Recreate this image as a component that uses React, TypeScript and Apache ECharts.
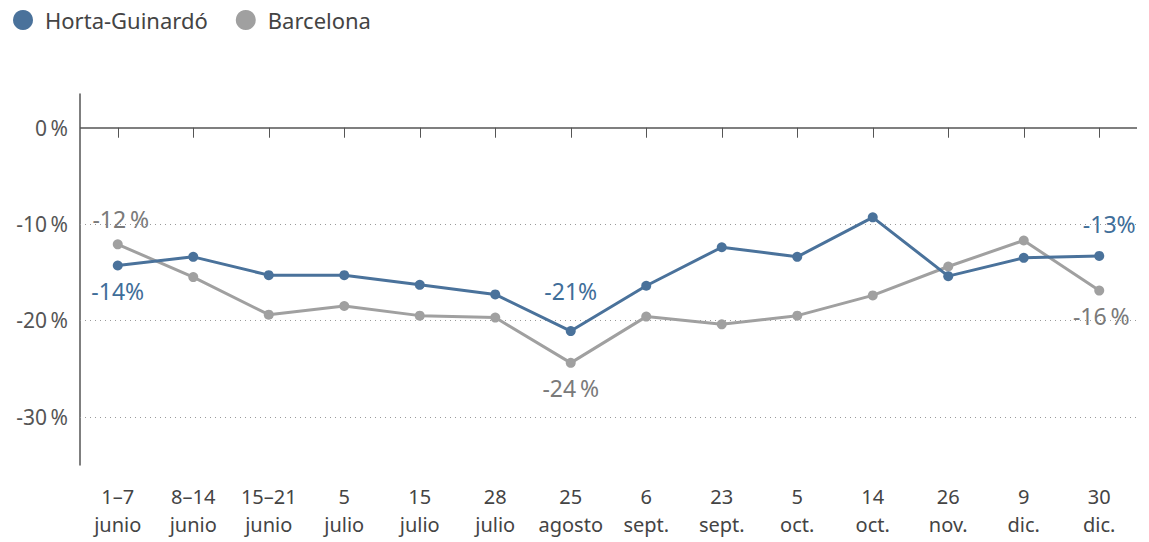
import React, { useEffect, useRef } from "react";
import * as echarts from "echarts";

const categories = [
  "1–7\njunio", "8–14\njunio", "15–21\njunio", "5\njulio", "15\njulio", "28\njulio",
  "25\nagosto", "6\nsept.", "23\nsept.", "5\noct.", "14\noct.", "26\nnov.", "9\ndic.", "30\ndic.",
];
const hortaValues = [-14.3, -13.4, -15.3, -15.3, -16.3, -17.3, -21.1, -16.4, -12.4, -13.4, -9.3, -15.4, -13.5, -13.3];
const bcnValues = [-12.1, -15.5, -19.4, -18.5, -19.5, -19.7, -24.4, -19.6, -20.4, -19.5, -17.4, -14.4, -11.7, -16.9];
const yTicks = [0, -10, -20, -30];
const hortaLabels: Record<number, { text: string; pos: string; off?: number[] }> = {
  0: { text: "-14%", pos: "bottom" },
  6: { text: "-21%", pos: "top", off: [0, -15] },
  13: { text: "-13%", pos: "top", off: [10, -6] },
};
const bcnLabels: Record<number, { text: string; pos: string; off?: number[] }> = {
  0: { text: "-12\u2009%", pos: "top", off: [3, 0] },
  6: { text: "-24\u2009%", pos: "bottom" },
  13: { text: "-16\u2009%", pos: "bottom", off: [2, 0] },
};

const BLUE = "#4a729b";
const GREY = "#a0a0a0";
const FONT = "Noto Sans";

function buildData(values: number[], labels: Record<number, any>, color: string) {
  return values.map((v, i) => {
    const l = labels[i];
    if (!l) return v;
    return {
      value: v,
      label: {
        show: true,
        position: l.pos,
        distance: 9,
        offset: l.off || [0, 0],
        formatter: l.text,
        color,
        fontSize: 23,
        fontFamily: FONT,
      },
    };
  });
}

export default function App() {
  const ref = useRef<HTMLDivElement>(null);
  useEffect(() => {
    if (!ref.current) return;
    const chart = echarts.init(ref.current, undefined, { renderer: "svg" });
    chart.setOption({
      animation: false,
      textStyle: { fontFamily: FONT },
      legend: {
        left: 8,
        top: 4,
        icon: "circle",
        itemWidth: 20,
        itemHeight: 20,
        itemGap: 28,
        textStyle: { fontSize: 22, lineHeight: 22, color: "#444", fontFamily: FONT, padding: [0, 0, 0, 7] },
        data: ["Horta-Guinardó", "Barcelona"],
      },
      grid: { left: 80, right: 12, top: 94, bottom: 77, containLabel: false },
      xAxis: {
        type: "category",
        data: categories,
        boundaryGap: true,
        axisLine: { show: false },
        axisTick: { show: true, alignWithLabel: true, length: 10, lineStyle: { color: "#555", width: 1 } },
        axisLabel: { color: "#444", fontSize: 20, lineHeight: 28, margin: 17, fontFamily: FONT, interval: 0 },
        splitLine: { show: false },
      },
      yAxis: {
        type: "value",
        min: -35,
        max: 3.5,
        axisLine: { show: true, lineStyle: { color: "#555", width: 1.5 } },
        axisTick: { show: false },
        splitLine: { show: false },
        axisLabel: {
          customValues: yTicks,
          formatter: (v: number) => `${v}\u2009%`,
          color: "#555",
          fontSize: 21,
          margin: 12,
          fontFamily: FONT,
        },
      },
      series: [
        {
          name: "Horta-Guinardó",
          type: "line",
          data: buildData(hortaValues, hortaLabels, "#3f6e99"),
          itemStyle: { color: BLUE },
          lineStyle: { color: BLUE, width: 3 },
          symbol: "circle",
          symbolSize: 10,
          z: 3,
          markLine: {
            silent: true,
            symbol: "none",
            label: { show: false },
            data: [
              { yAxis: 0, lineStyle: { color: "#555", width: 1.5, type: "solid" } },
              { yAxis: -10, lineStyle: { color: "#999", width: 1, type: [1, 4] } },
              { yAxis: -20, lineStyle: { color: "#999", width: 1, type: [1, 4] } },
              { yAxis: -30, lineStyle: { color: "#999", width: 1, type: [1, 4] } },
            ],
            z: 1,
          },
        },
        {
          name: "Barcelona",
          type: "line",
          data: buildData(bcnValues, bcnLabels, "#7a7a7a"),
          itemStyle: { color: GREY },
          lineStyle: { color: GREY, width: 3 },
          symbol: "circle",
          symbolSize: 10,
          z: 2,
        },
      ],
    });
    return () => chart.dispose();
  }, []);
  return <div ref={ref} style={{ position: "absolute", left: 0, top: 0, width: 1149, height: 542 }} />;
}
